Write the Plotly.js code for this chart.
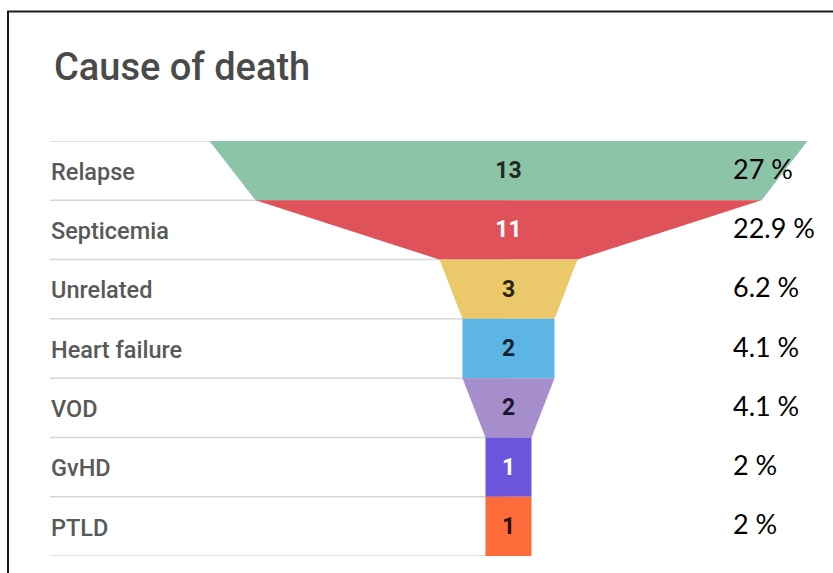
<!DOCTYPE html>
<html>
<head>
<meta charset="utf-8">
<script src="https://cdn.plot.ly/plotly-3.0.1.min.js"></script>
<style>html,body{margin:0;padding:0;background:#fff;}#chart{width:833px;height:573px;}</style>
</head>
<body>
<div id="chart"></div>
<script>
// ---- data ----
const categories = ["Relapse", "Septicemia", "Unrelated", "Heart failure", "VOD", "GvHD", "PTLD"];
const counts = [13, 11, 3, 2, 2, 1, 1];
const percents = [27, 22.9, 6.2, 4.1, 4.1, 2, 2];
const colors = ["#8cc4a7", "#e0525a", "#ebc96b", "#5db5e5", "#a68dcb", "#6a55dc", "#fd6b3a"];
const countTextColors = ["#1f2a24", "#ffffff", "#2a2410", "#0f2030", "#1c1530", "#ffffff", "#2a1208"];

// ---- layout geometry ----
const W = 833, H = 573;
const mL = 50, mR = 0, mT = 141, mB = 17;
const plotW = W - mL - mR, plotH = H - mT - mB;
const centerPx = 508.5, pxPerUnit = 46;
const xMin = -(centerPx - mL) / pxPerUnit;
const xMax = (W - mR - centerPx) / pxPerUnit;
const n = categories.length;

const traces = [];
categories.forEach((c, i) => {
  const top = counts[i];
  const bot = i < n - 1 ? counts[i + 1] : counts[i];
  traces.push({
    type: "scatter", mode: "lines", fill: "toself",
    x: [-top / 2, top / 2, bot / 2, -bot / 2, -top / 2],
    y: [i - 0.5, i - 0.5, i + 0.5, i + 0.5, i - 0.5],
    line: {width: 0, color: colors[i]},
    fillcolor: colors[i],
    hoverinfo: "skip", showlegend: false
  });
});
traces.push({
  type: "scatter", mode: "text",
  x: counts.map(() => 0), y: categories.map((c, i) => i + 0.03),
  text: counts.map(String),
  textposition: "middle center",
  textfont: {family: "Roboto, Arial, sans-serif", size: 23, weight: "bold", color: countTextColors},
  hoverinfo: "skip", showlegend: false
});

const shapes = [];
for (let i = 0; i <= n; i++) {
  shapes.push({
    type: "line", layer: "below", xref: "x", yref: "y",
    x0: xMin, x1: 0, y0: i - 0.5, y1: i - 0.5,
    line: {color: "#d6d6d6", width: 1.5}
  });
}
// outer frame (top and left edges)
const fx = (px) => (px - mL) / plotW;
const fy = (py) => (H - mB - py) / plotH;
shapes.push({
  type: "path", xref: "paper", yref: "paper", layer: "above",
  path: `M ${fx(8)} ${fy(600)} L ${fx(8)} ${fy(11.5)} L ${fx(840)} ${fy(11.5)}`,
  line: {color: "#1a1a1a", width: 2}
});

const annotations = [];
categories.forEach((c, i) => {
  annotations.push({
    xref: "paper", yref: "y", x: fx(49), y: i + 0.02, xanchor: "left", yanchor: "middle",
    text: c, showarrow: false,
    font: {family: "Roboto, Arial, sans-serif", size: 23.5, weight: 500, color: "#595959"}
  });
  annotations.push({
    xref: "paper", yref: "y", x: fx(731), y: i - 0.04, xanchor: "left", yanchor: "middle",
    text: percents[i] + " %", showarrow: false,
    font: {family: "Lato, 'Open Sans', sans-serif", size: 27, color: "#000000"}
  });
});

const layout = {
  width: W, height: H,
  margin: {l: mL, r: mR, t: mT, b: mB, pad: 0},
  paper_bgcolor: "#ffffff", plot_bgcolor: "#ffffff",
  title: {
    text: "Cause of death", xref: "container", yref: "container",
    x: 54 / W, xanchor: "left", y: 1 - 67 / H, yanchor: "middle",
    font: {family: "Roboto, Arial, sans-serif", size: 38, weight: 500, color: "#4a4a4a"}
  },
  xaxis: {range: [xMin, xMax], visible: false, fixedrange: true},
  yaxis: {range: [n - 0.5, -0.5], visible: false, fixedrange: true},
  shapes: shapes, annotations: annotations, showlegend: false
};

Plotly.newPlot("chart", traces, layout, {displayModeBar: false, staticPlot: true});
</script>
</body>
</html>
